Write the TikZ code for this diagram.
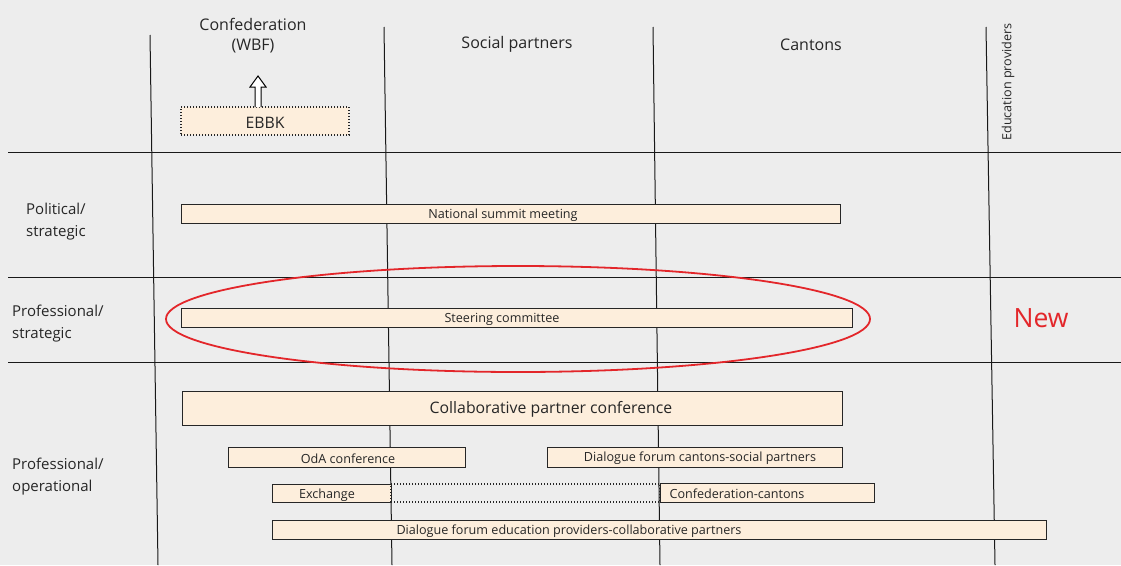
\documentclass[tikz,border=0pt]{standalone}
\usepackage{fontspec}
\setmainfont{Open Sans}
\definecolor{bg}{HTML}{EDEDED}
\definecolor{barfill}{HTML}{FDEEDC}
\definecolor{newred}{HTML}{E3262A}
\begin{document}
\begin{tikzpicture}[x=1pt,y=-1pt,
  bar/.style={draw=black!85, fill=barfill, line width=1pt, inner sep=0pt, outer sep=0pt, anchor=north west},
  gapbar/.style={bar, fill=none, dotted, line width=1.1pt},
  rule/.style={draw=black!90, line width=1pt},
  head/.style={font=\fontsize{16}{20}\selectfont, align=center, text=black!85, yshift=-1.5pt},
  rowlab/.style={font=\fontsize{15}{22}\selectfont, align=left, anchor=west, text=black!85, inner sep=0pt, yshift=-1.5pt},
  small/.style={font=\fontsize{12.6}{14}\selectfont, text=black!85, yshift=-1.5pt},
  big/.style={font=\fontsize{15.8}{18}\selectfont, text=black!85, yshift=-1.5pt}]
% Background and size
\fill[bg] (0,0) rectangle (1121,565);
\useasboundingbox (0,0) rectangle (1121,565);

% Grid lines
\draw[rule] (150,35) -- (158,565);
\draw[rule] (384,27) -- (392,565);
\draw[rule] (653,27) -- (660,565);
\draw[rule] (986,27) -- (995,565);
\draw[rule] (8,152) -- (1121,152);
\draw[rule] (8,277) -- (1121,277);
\draw[rule] (8,362) -- (1121,362);

% Column headings
\node[head] (wbf) at (253,34) {Confederation\\(WBF)};
\node[head] (soc) at (517,43) {Social partners};
\node[head] (can) at (811,43) {Cantons};
\node[font=\fontsize{12.6}{14}\selectfont, text=black!85, rotate=90] (edu) at (1008,82) {Education providers};

% Row headings
\node[rowlab] (pol) at (26,220) {Political/\\strategic};
\node[rowlab] (pst) at (12,322) {Professional/\\strategic};
\node[rowlab] (pop) at (12,475) {Professional/\\operational};

% EBBK and arrow
\node[bar, dotted, line width=1.1pt, minimum width=168, minimum height=28] (ebbk) at (181,107) {};
\node[big] (ebbk-t) at (ebbk.center) {EBBK};
\draw[fill=white, line width=1pt] ([xshift=-7pt]ebbk.north) ++(-3,0) -- ++(0,-20) -- ++(-5,0) -- ++(8,-11)
  -- ++(8,11) -- ++(-5,0) -- ++(0,20);

% Bars
\node[bar, minimum width=659, minimum height=19] (nsm) at (181,204) {};
\node[small] (nsm-t) at (503,213.5) {National summit meeting};

\node[bar, minimum width=671, minimum height=19] (steer) at (181,308) {};
\node[small] (steer-t) at (502,317.5) {Steering committee};
\draw[newred, line width=1.8pt] (518,319) ellipse [x radius=352, y radius=53];
\node[font=\fontsize{26.5}{28}\selectfont, text=newred, yshift=-1.5pt] (new) at (1041,317) {New};

\node[bar, minimum width=660, minimum height=34] (cpc) at (182,391) {};
\node[big] (cpc-t) at (551,408) {Collaborative partner conference};

\node[bar, minimum width=237, minimum height=20] (oda) at (228,447) {};
\node[small] (oda-t) at (348,457) {OdA conference};
\node[bar, minimum width=295, minimum height=20] (dfcs) at (547,447) {};
\node[small] (dfcs-t) at (700,457) {Dialogue forum cantons-social partners};

\node[bar, minimum width=119, minimum height=18] (exch) at (272,484) {};
\node[small] (exch-t) at (327,494) {Exchange};
\node[gapbar, minimum width=269, minimum height=18] (gap) at (391,484) {};
\node[bar, minimum width=214, minimum height=19] (cc) at (660,483) {};
\node[small] (cc-t) at (737,492.5) {Confederation-cantons};

\node[bar, minimum width=774, minimum height=19] (dfep) at (272,520) {};
\node[small] (dfep-t) at (569,529.5) {Dialogue forum education providers-collaborative partners};
\end{tikzpicture}
\end{document}
